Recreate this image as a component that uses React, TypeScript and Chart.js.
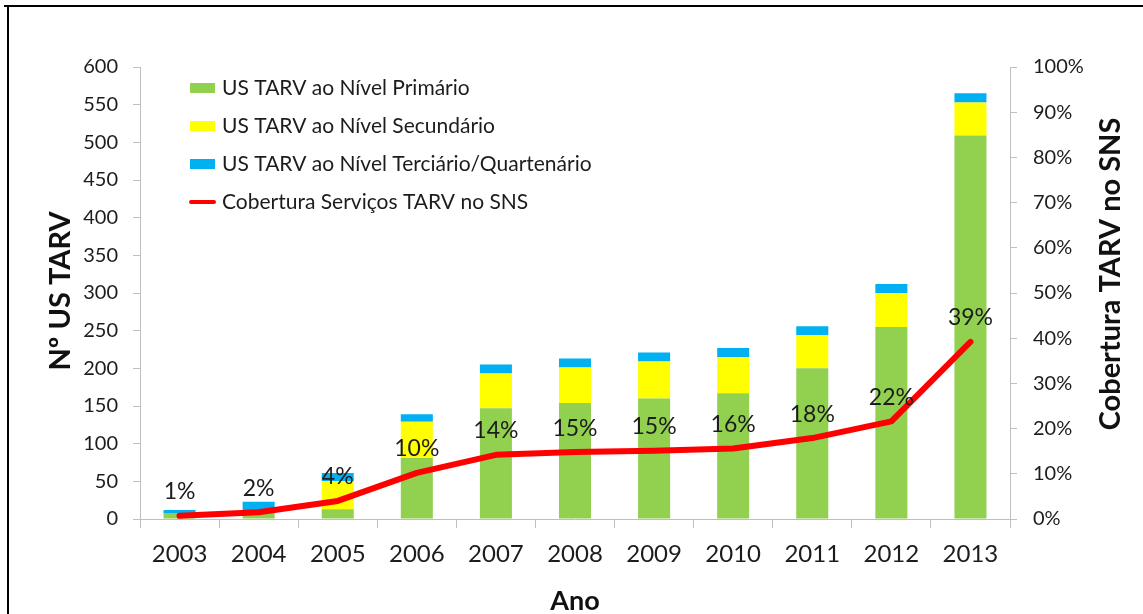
import React, { useEffect, useRef } from 'react';
import { Chart, registerables } from 'chart.js';

Chart.register(...registerables);

const years = ['2003', '2004', '2005', '2006', '2007', '2008', '2009', '2010', '2011', '2012', '2013'];
const primario = [8, 8, 13, 81, 147, 154, 160, 167, 200, 255, 509];
const secundario = [0, 0, 37, 48, 46, 47, 49, 48, 44, 45, 44];
const terciario = [4, 15, 11, 10, 12, 12, 12, 12, 12, 12, 12];
const cobertura = [0.7, 1.5, 4.0, 10.2, 14.2, 14.8, 15.1, 15.6, 17.9, 21.6, 39.2];

const seriesNames = [
  'US TARV ao Nível Primário',
  'US TARV ao Nível Secundário',
  'US TARV ao Nível Terciário/Quartenário',
  'Cobertura Serviços TARV no SNS',
];
const leftTitle = 'Nº US TARV';
const rightTitle = 'Cobertura TARV no SNS';
const bottomTitle = 'Ano';

const FONT = 'Lato';
const TXT = '#1c1c1c';
const AXIS = '#bfbfbf';

const overlayPlugin = {
  id: 'overlay',
  afterDatasetsDraw(chart: any) {
    const ctx = chart.ctx;
    const lineIdx = chart.data.datasets.findIndex((d: any) => d.type === 'line');
    const meta = chart.getDatasetMeta(lineIdx);
    ctx.save();
    ctx.font = `23px ${FONT}`;
    ctx.fillStyle = TXT;
    ctx.textAlign = 'center';
    ctx.textBaseline = 'middle';
    meta.data.forEach((pt: any, i: number) => {
      const v = chart.data.datasets[lineIdx].data[i];
      ctx.fillText(Math.round(v) + '%', pt.x, pt.y - 24);
    });
    ctx.restore();
  },
  afterDraw(chart: any) {
    const ctx = chart.ctx;
    ctx.save();
    ctx.font = `21px ${FONT}`;
    ctx.textBaseline = 'middle';
    ctx.textAlign = 'left';
    chart.data.datasets.forEach((ds: any, i: number) => {
      const y = 88 + 38 * i;
      if (ds.type === 'line') {
        ctx.strokeStyle = ds.borderColor;
        ctx.lineWidth = 4;
        ctx.lineCap = 'round';
        ctx.beginPath();
        ctx.moveTo(191, y);
        ctx.lineTo(214, y);
        ctx.stroke();
      } else {
        ctx.fillStyle = ds.backgroundColor;
        ctx.fillRect(190, y - 5, 25, 10);
      }
      ctx.fillStyle = TXT;
      ctx.fillText(ds.label, 222, y);
    });
    ctx.fillStyle = '#111';
    ctx.textAlign = 'center';
    ctx.textBaseline = 'middle';
    ctx.font = `bold 29px ${FONT}`;
    ctx.save();
    ctx.translate(61, 291);
    ctx.rotate(-Math.PI / 2);
    ctx.fillText(leftTitle, 0, 0);
    ctx.restore();
    ctx.save();
    ctx.translate(1111, 274);
    ctx.rotate(-Math.PI / 2);
    ctx.fillText(rightTitle, 0, 0);
    ctx.restore();
    ctx.font = `bold 27px ${FONT}`;
    ctx.fillText(bottomTitle, 575, 601);
    ctx.restore();
  },
};

export default function App() {
  const ref = useRef<HTMLCanvasElement | null>(null);
  useEffect(() => {
    if (!ref.current) return;
    const barCommon = { yAxisID: 'y', order: 1, barPercentage: 0.405, categoryPercentage: 1 };
    const chart = new Chart(ref.current, {
      type: 'bar',
      data: {
        labels: years,
        datasets: [
          { type: 'bar', label: seriesNames[0], data: primario, backgroundColor: '#92D050', ...barCommon },
          { type: 'bar', label: seriesNames[1], data: secundario, backgroundColor: '#FFFF00', ...barCommon },
          { type: 'bar', label: seriesNames[2], data: terciario, backgroundColor: '#00B0F0', ...barCommon },
          {
            type: 'line',
            label: seriesNames[3],
            data: cobertura,
            borderColor: '#FF0000',
            backgroundColor: '#FF0000',
            borderWidth: 6,
            pointRadius: 0,
            tension: 0,
            yAxisID: 'y1',
            order: 0,
            borderCapStyle: 'round',
            borderJoinStyle: 'round',
          } as any,
        ] as any,
      },
      options: {
        animation: false,
        responsive: false,
        devicePixelRatio: 1,
        layout: { padding: { top: 67, left: 0, right: 0, bottom: 0 } },
        plugins: { legend: { display: false }, tooltip: { enabled: false } },
        scales: {
          x: {
            stacked: true,
            offset: true,
            grid: { display: true, drawOnChartArea: false, tickLength: 9, color: AXIS, offset: true },
            border: { color: AXIS, width: 1 },
            ticks: { font: { family: FONT, size: 24 }, color: TXT, padding: 12, maxRotation: 0, autoSkip: false },
            afterFit: (s: any) => { s.height = 95; },
          },
          y: {
            stacked: true,
            min: 0,
            max: 600,
            position: 'left',
            grid: { drawOnChartArea: false, tickLength: 7, color: AXIS },
            border: { color: AXIS, width: 1 },
            ticks: { stepSize: 50, font: { family: FONT, size: 20 }, color: TXT, padding: 15 },
            afterFit: (s: any) => { s.width = 140; },
          },
          y1: {
            min: 0,
            max: 100,
            position: 'right',
            grid: { drawOnChartArea: false, tickLength: 7, color: AXIS },
            border: { color: AXIS, width: 1 },
            ticks: { stepSize: 10, font: { family: FONT, size: 20 }, color: TXT, padding: 16, callback: (v: any) => v + '%' },
            afterFit: (s: any) => { s.width = 133; },
          },
        },
      },
      plugins: [overlayPlugin],
    });
    return () => chart.destroy();
  }, []);

  return (
    <div style={{ position: 'fixed', left: 0, top: 0, width: 1143, height: 614, background: '#fff', overflow: 'hidden' }}>
      <canvas ref={ref} width={1143} height={614} style={{ position: 'absolute', left: 0, top: 0, width: 1143, height: 614 }} />
      <div style={{ position: 'absolute', left: 4, top: 5, width: 1139, height: 2, background: '#000' }} />
      <div style={{ position: 'absolute', left: 7, top: 5, width: 2, height: 609, background: '#000' }} />
    </div>
  );
}
